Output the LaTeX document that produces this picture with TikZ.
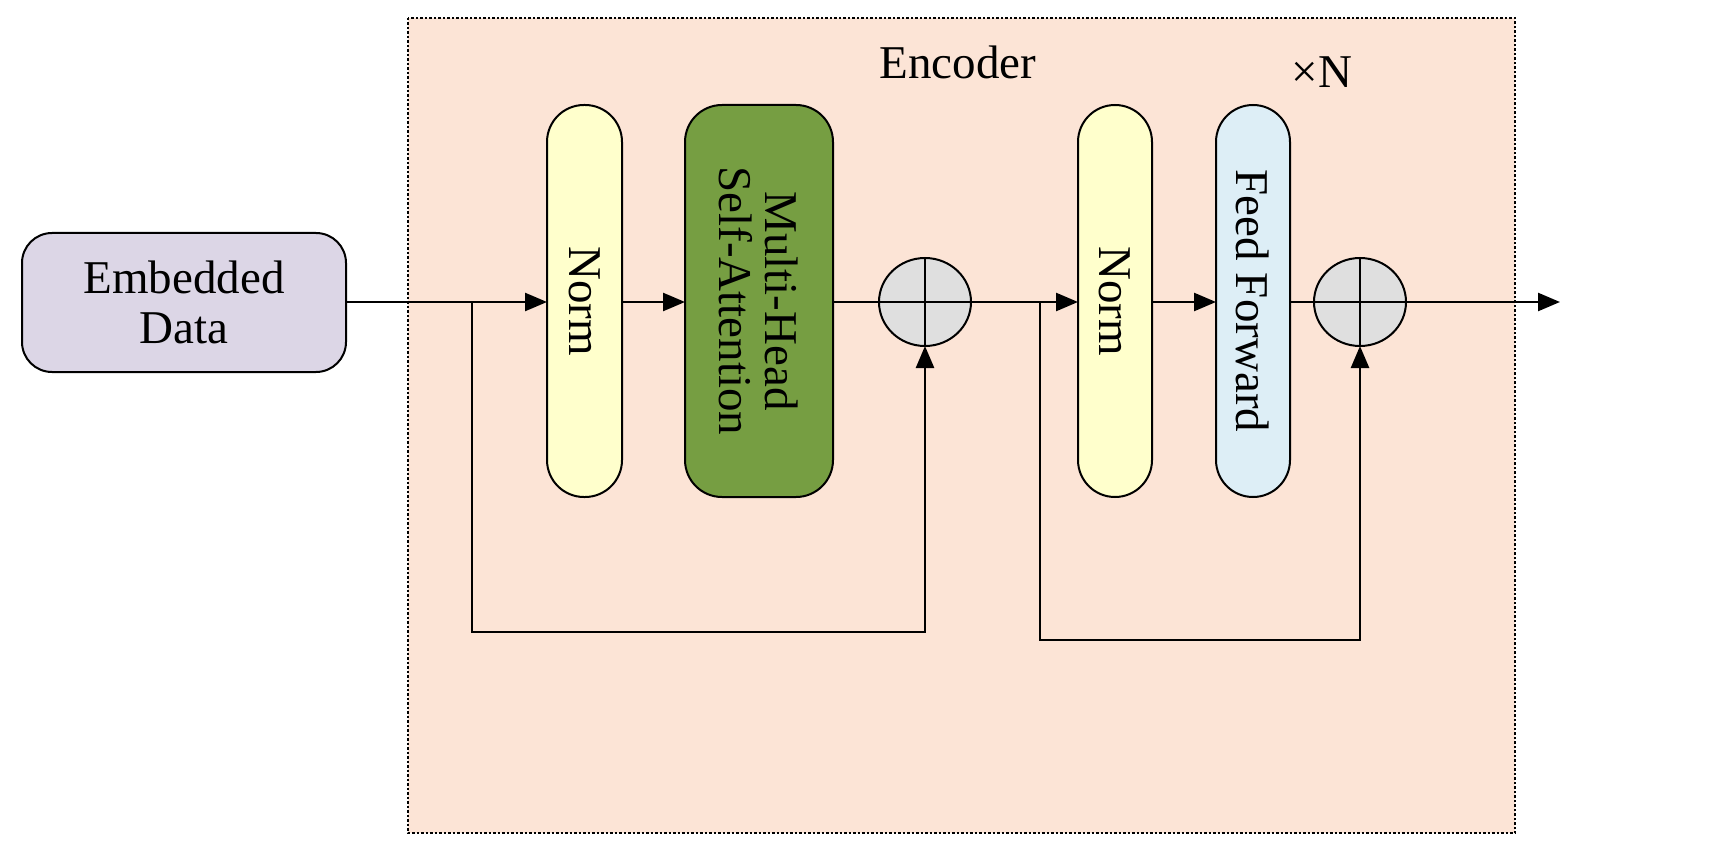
\documentclass[tikz,border=0pt]{standalone}
\usepackage{fontspec}
\setmainfont{Liberation Serif}
\usetikzlibrary{arrows.meta}
\begin{document}
\begin{tikzpicture}[x=1pt,y=-1pt,
  line width=2.5pt,
  txt/.style={font=\fontsize{47}{50}\selectfont},
  pill/.style={draw,line width=2pt,rounded corners=37pt},
  arr/.style={-{Triangle[length=22pt,width=18pt]}}]
\useasboundingbox (0,0) rectangle (1717,845);
\fill[white] (0,0) rectangle (1717,845);
\draw[dotted,line width=2.5pt,fill={rgb,255:red,252;green,228;blue,214}] (408,18) rectangle (1515,833);
\node[txt] (enc) at (958,62) {Encoder};
\node[txt] (xn) at (1322,72) {×N};
\draw[line width=2pt,rounded corners=30pt,fill={rgb,255:red,220;green,214;blue,230}] (22,233) rectangle (346,372);
\node[txt,align=center] (emb) at (184,302) {Embedded\\Data};
\draw[pill,fill={rgb,255:red,255;green,255;blue,204}] (547,105) rectangle (622,497);
\node[txt,rotate=-90] (n1) at (584.5,301) {Norm};
\draw[pill,fill={rgb,255:red,118;green,158;blue,66}] (685,105) rectangle (833,497);
\node[txt,rotate=-90,align=center,font=\fontsize{47}{46}\selectfont] (mh) at (759,301) {Multi-Head\\Self-Attention};
\draw[pill,fill={rgb,255:red,255;green,255;blue,204}] (1078,105) rectangle (1152,497);
\node[txt,rotate=-90] (n2) at (1115,301) {Norm};
\draw[pill,fill={rgb,255:red,221;green,238;blue,246}] (1216,105) rectangle (1290,497);
\node[txt,rotate=-90] (ff) at (1253,301) {Feed Forward};
\draw[line width=2pt,fill=gray!25] (925,302) ellipse (46 and 44);
\draw[line width=2pt] (879,302) -- (971,302) (925,258) -- (925,346);
\draw[line width=2pt,fill=gray!25] (1360,302) ellipse (46 and 44);
\draw[line width=2pt] (1314,302) -- (1406,302) (1360,258) -- (1360,346);
\draw[arr] (346,302) -- (547,302);
\draw[arr] (622,302) -- (685,302);
\draw (833,302) -- (879,302);
\draw[arr] (971,302) -- (1078,302);
\draw[arr] (1152,302) -- (1216,302);
\draw (1290,302) -- (1314,302);
\draw[arr] (1406,302) -- (1560,302);
\draw[arr] (472,302) -- (472,632) -- (925,632) -- (925,346);
\draw[arr] (1040,302) -- (1040,640) -- (1360,640) -- (1360,346);
\end{tikzpicture}
\end{document}
